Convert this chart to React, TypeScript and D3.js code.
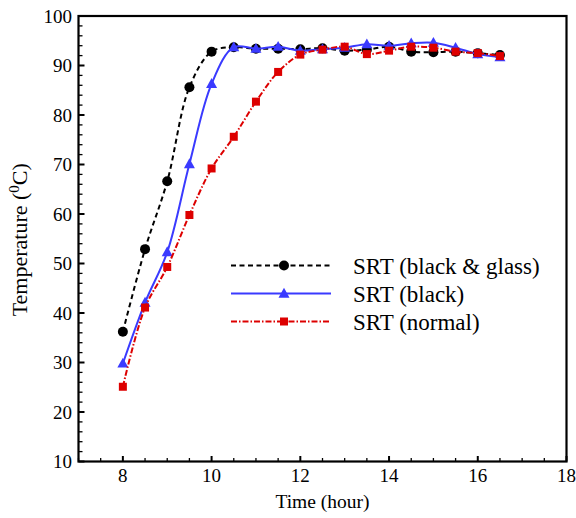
import React from "react";
import * as d3 from "d3";

const times = [8, 8.5, 9, 9.5, 10, 10.5, 11, 11.5, 12, 12.5, 13, 13.5, 14, 14.5, 15, 15.5, 16, 16.5];
const blackGlass = [36.2, 52.9, 66.6, 85.6, 92.8, 93.7, 93.4, 93.4, 93.3, 93.5, 93.0, 93.2, 93.8, 92.8, 92.7, 92.8, 92.5, 92.1];
const blackOnly = [29.8, 42.1, 52.3, 70.1, 86.3, 93.7, 93.4, 93.8, 93.0, 93.3, 93.6, 94.3, 94.0, 94.5, 94.6, 93.6, 92.3, 91.7];
const normal = [25.1, 41.1, 49.3, 59.8, 69.2, 75.6, 82.7, 88.7, 92.2, 93.2, 93.8, 92.3, 93.0, 93.8, 93.6, 92.8, 92.5, 91.9];

const xTicks = [8, 10, 12, 14, 16, 18];
const yTicks = [10, 20, 30, 40, 50, 60, 70, 80, 90, 100];
const seriesNames = ["SRT (black & glass)", "SRT (black)", "SRT (normal)"];

const W = 576;
const H = 518;
const M = { left: 78.5, right: 566.5, top: 16, bottom: 461.5 };
const FONT = '"Liberation Serif"';

export default function App() {
  const x = d3.scaleLinear().domain([7, 18]).range([M.left, M.right]);
  const y = d3.scaleLinear().domain([10, 100]).range([M.bottom, M.top]);

  const series = [
    { name: seriesNames[0], values: blackGlass, color: "#000000", dash: "5,3.5", marker: "circle" },
    { name: seriesNames[1], values: blackOnly, color: "#3a3aff", dash: "", marker: "triangle" },
    { name: seriesNames[2], values: normal, color: "#dd0000", dash: "6,2,1.5,2", marker: "square" },
  ];

  const line = d3
    .line<[number, number]>()
    .x((d) => x(d[0]))
    .y((d) => y(d[1]))
    .curve(d3.curveCatmullRom.alpha(0.5));

  const xMinor = d3.range(7, 18.001, 0.5);
  const yMinor = d3.range(10, 100.001, 2);

  const marker = (type: string, cx: number, cy: number, color: string, key: string) => {
    if (type === "circle") return <circle key={key} cx={cx} cy={cy} r={5} fill={color} />;
    if (type === "triangle") {
      const s = 5.5;
      return (
        <path
          key={key}
          d={`M${cx},${cy - s * 1.05} L${cx + s},${cy + s * 0.75} L${cx - s},${cy + s * 0.75} Z`}
          fill={color}
        />
      );
    }
    return <rect key={key} x={cx - 4} y={cy - 4} width={8} height={8} fill={color} />;
  };

  const legendX1 = 231;
  const legendX2 = 331;
  const legendYs = [265.5, 293.5, 321.5];
  const ts = { fontFamily: FONT } as React.CSSProperties;

  return (
    <svg width={W} height={H} style={{ display: "block", position: "absolute", left: 0, top: 0, fontFamily: FONT }}>
      <rect x={0} y={0} width={W} height={H} fill="#ffffff" />

      {xMinor.map((v) => {
        const major = Math.abs(v % 2) < 1e-9;
        return (
          <line key={"xm" + v} x1={x(v)} x2={x(v)} y1={M.bottom} y2={M.bottom - (major ? 5.5 : 3.5)} stroke="#000" strokeWidth={major ? 2 : 1.3} />
        );
      })}
      {yMinor.map((v) => {
        const major = Math.abs(v % 10) < 1e-9;
        return (
          <line key={"ym" + v} x1={M.left} x2={M.left + (major ? 6 : 4)} y1={y(v)} y2={y(v)} stroke="#000" strokeWidth={major ? 2 : 1.3} />
        );
      })}

      <rect x={M.left} y={M.top} width={M.right - M.left} height={M.bottom - M.top} fill="none" stroke="#000" strokeWidth={2.2} />

      {xTicks.map((v) => (
        <text key={"xt" + v} style={ts} x={x(v)} y={482} textAnchor="middle" fontSize={19} fill="#000">
          {v}
        </text>
      ))}
      {yTicks.map((v) => (
        <text key={"yt" + v} style={ts} x={72} y={y(v) + 6.5} textAnchor="end" fontSize={19} fill="#000">
          {v}
        </text>
      ))}

      <text style={ts} x={(M.left + M.right) / 2} y={508} textAnchor="middle" fontSize={19.5} fill="#000">
        Time (hour)
      </text>
      <text style={ts} transform={`translate(27,${(M.top + M.bottom) / 2 + 1}) rotate(-90)`} textAnchor="middle" fontSize={22} fill="#000">
        Temperature (
        <tspan fontSize={15} dy={-8.5}>0</tspan>
        <tspan dy={8.5}>C)</tspan>
      </text>

      {series.map((s, si) => {
        const pts: [number, number][] = times.map((t, i) => [t, s.values[i]]);
        return (
          <g key={"s" + si}>
            <path d={line(pts) || ""} fill="none" stroke={s.color} strokeWidth={2} strokeDasharray={s.dash || undefined} />
            {pts.map((p, i) => marker(s.marker, x(p[0]), y(p[1]), s.color, "m" + si + "-" + i))}
          </g>
        );
      })}

      {series.map((s, si) => (
        <g key={"lg" + si}>
          <line x1={legendX1} x2={legendX2} y1={legendYs[si]} y2={legendYs[si]} stroke={s.color} strokeWidth={2} strokeDasharray={s.dash || undefined} />
          {marker(s.marker, (legendX1 + legendX2) / 2 + 3, legendYs[si], s.color, "lm" + si)}
          <text style={ts} x={353} y={legendYs[si] + 8} fontSize={23} fill="#000">
            {s.name}
          </text>
        </g>
      ))}
    </svg>
  );
}
